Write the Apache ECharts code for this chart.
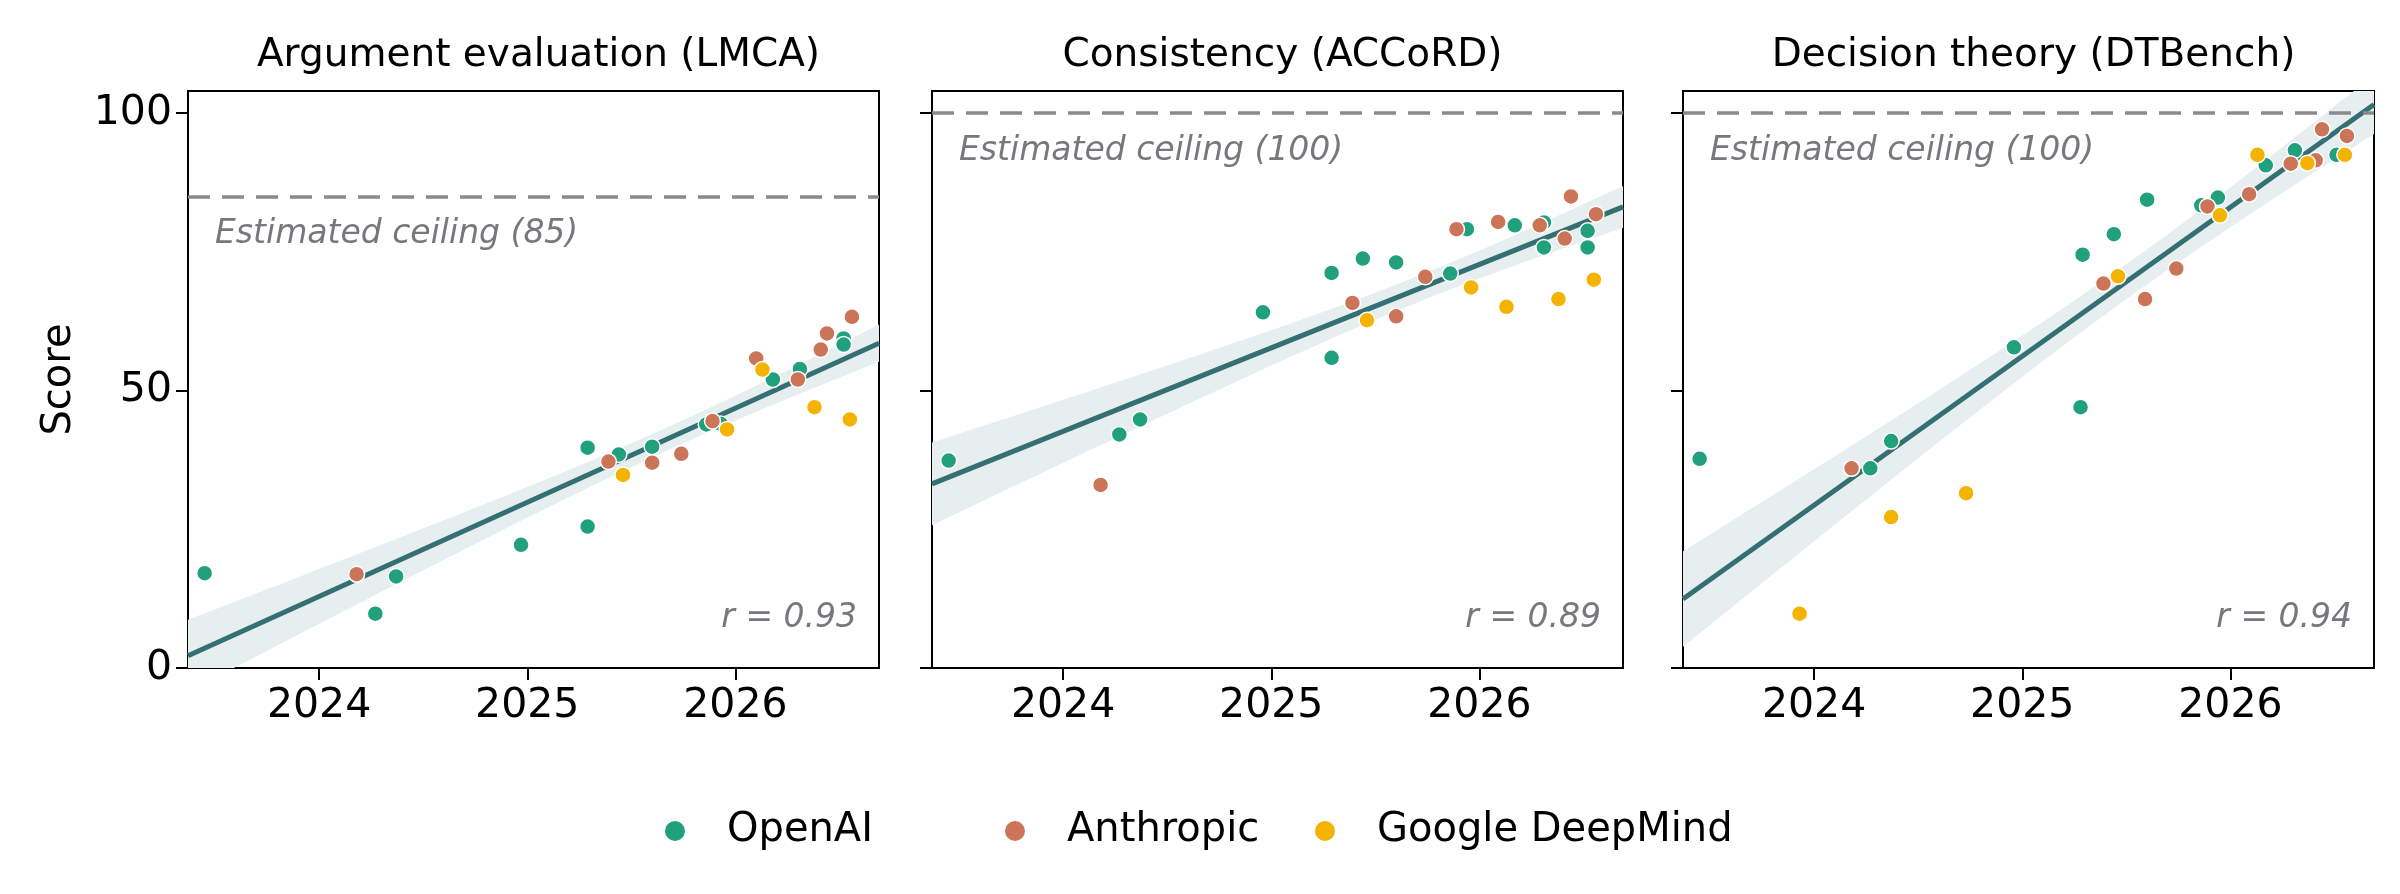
<!DOCTYPE html>
<html><head><meta charset="utf-8">
<script src="https://cdn.jsdelivr.net/npm/echarts@6/dist/echarts.min.js"></script>
<style>html,body{margin:0;padding:0;background:#fff}#c{width:2400px;height:894px}</style>
</head><body><div id="c"></div>
<script>
const panelTitles = ['Argument evaluation (LMCA)', 'Consistency (ACCoRD)', 'Decision theory (DTBench)'];
const ceilings = [85, 100, 100];
const rLabels = ['r = 0.93', 'r = 0.89', 'r = 0.94'];
const companies = ['OpenAI', 'Anthropic', 'Google DeepMind'];
const yearTicks = [2024, 2025, 2026];
const yTicks = [0, 50, 100];

// Panel 1
const p1OpenAIx = [2023.45, 2024.27, 2024.37, 2024.97, 2025.29, 2025.29, 2025.44, 2025.60, 2025.86, 2025.93, 2026.18, 2026.31, 2026.52, 2026.52];
const p1OpenAIy = [17.1, 9.8, 16.5, 22.2, 25.5, 39.7, 38.5, 39.9, 43.9, 44.0, 52.0, 53.9, 59.4, 58.3];
const p1AnthropicX = [2024.18, 2025.39, 2025.60, 2025.74, 2025.89, 2026.10, 2026.30, 2026.41, 2026.44, 2026.56];
const p1AnthropicY = [16.9, 37.2, 37.0, 38.6, 44.5, 55.8, 52.0, 57.4, 60.3, 63.3];
const p1GoogleX = [2025.46, 2025.96, 2026.13, 2026.38, 2026.55];
const p1GoogleY = [34.8, 43.0, 53.8, 47.0, 44.8];
// Panel 2
const p2OpenAIx = [2023.45, 2024.27, 2024.37, 2024.96, 2025.29, 2025.29, 2025.44, 2025.60, 2025.86, 2025.94, 2026.17, 2026.31, 2026.31, 2026.52, 2026.52];
const p2OpenAIy = [37.4, 42.1, 44.8, 64.1, 55.9, 71.2, 73.8, 73.1, 71.1, 79.1, 79.8, 80.3, 75.8, 78.8, 75.8];
const p2AnthropicX = [2024.18, 2025.39, 2025.60, 2025.74, 2025.89, 2026.09, 2026.29, 2026.41, 2026.44, 2026.56];
const p2AnthropicY = [33.0, 65.8, 63.4, 70.5, 79.1, 80.4, 79.8, 77.4, 85.0, 81.8];
const p2GoogleX = [2025.46, 2025.96, 2026.13, 2026.38, 2026.55];
const p2GoogleY = [62.7, 68.6, 65.1, 66.5, 70.0];
// Panel 3
const p3OpenAIx = [2023.45, 2024.27, 2024.37, 2024.96, 2025.28, 2025.29, 2025.44, 2025.60, 2025.86, 2025.94, 2026.17, 2026.31, 2026.51];
const p3OpenAIy = [37.7, 36.0, 40.9, 57.8, 47.0, 74.5, 78.2, 84.4, 83.4, 84.8, 90.6, 93.3, 92.5];
const p3AnthropicX = [2024.18, 2025.39, 2025.59, 2025.74, 2025.89, 2026.09, 2026.29, 2026.41, 2026.44, 2026.56];
const p3AnthropicY = [36.0, 69.3, 66.5, 72.0, 83.2, 85.4, 90.9, 91.5, 97.1, 95.9];
const p3GoogleX = [2023.93, 2024.37, 2024.73, 2025.46, 2025.95, 2026.13, 2026.37, 2026.55];
const p3GoogleY = [9.8, 27.2, 31.5, 70.6, 81.6, 92.5, 91.0, 92.5];

const panels = [
  [[p1OpenAIx, p1OpenAIy], [p1AnthropicX, p1AnthropicY], [p1GoogleX, p1GoogleY]],
  [[p2OpenAIx, p2OpenAIy], [p2AnthropicX, p2AnthropicY], [p2GoogleX, p2GoogleY]],
  [[p3OpenAIx, p3OpenAIy], [p3AnthropicX, p3AnthropicY], [p3GoogleX, p3GoogleY]]
];

const colors = ['#20a07c', '#cc7457', '#f3b300'];
const XMIN = 2023.37, XMAX = 2026.69;
const lefts = [188, 932, 1683], W = 691, TOP = 91, H = 577;
const FONT = '"DejaVu Sans", sans-serif';

function fit(xs, ys) {
  const n = xs.length;
  const mx = xs.reduce((a, b) => a + b, 0) / n, my = ys.reduce((a, b) => a + b, 0) / n;
  let sxx = 0, sxy = 0;
  for (let i = 0; i < n; i++) { sxx += (xs[i] - mx) ** 2; sxy += (xs[i] - mx) * (ys[i] - my); }
  const b = sxy / sxx, a = my - b * mx;
  let sse = 0;
  for (let i = 0; i < n; i++) sse += (ys[i] - a - b * xs[i]) ** 2;
  const s = Math.sqrt(sse / (n - 2));
  return { a, b, s, n, mx, sxx, t: 2.03 };
}

const chart = echarts.init(document.getElementById('c'), null, { renderer: 'canvas' });
const grid = [], xAxis = [], yAxis = [], series = [], graphic = [], title = [];

panels.forEach((pan, p) => {
  grid.push({ left: lefts[p], top: TOP, width: W, height: H, show: true, borderColor: '#000', borderWidth: 2, backgroundColor: 'transparent' });
  title.push({ text: panelTitles[p], left: lefts[p] + W / 2, top: 31, textAlign: 'center', textStyle: { fontFamily: FONT, fontSize: 39, fontWeight: 'normal', color: '#000' } });
  xAxis.push({ type: 'value', gridIndex: p, min: XMIN, max: XMAX,
    axisLine: { show: true, lineStyle: { color: '#000', width: 2 } },
    axisTick: { show: true, length: 12, lineStyle: { color: '#000', width: 2 }, customValues: yearTicks },
    axisLabel: { show: true, customValues: yearTicks, formatter: v => String(Math.round(v)), fontFamily: FONT, fontSize: 41, color: '#000', margin: 18 },
    splitLine: { show: false } });
  yAxis.push({ type: 'value', gridIndex: p, min: 0, max: 104,
    name: p === 0 ? 'Score' : '', nameLocation: 'middle', nameGap: 108, nameRotate: 90,
    nameTextStyle: { fontFamily: FONT, fontSize: 40, color: '#000' },
    axisLine: { show: true, lineStyle: { color: '#000', width: 2 } },
    axisTick: { show: true, length: 12, lineStyle: { color: '#000', width: 2 }, customValues: yTicks },
    axisLabel: { show: p === 0, customValues: yTicks, fontFamily: FONT, fontSize: 41, color: '#000', margin: 16 },
    splitLine: { show: false } });

  const allX = [].concat(...pan.map(c => c[0])), allY = [].concat(...pan.map(c => c[1]));
  const f = fit(allX, allY);
  series.push({ type: 'custom', xAxisIndex: p, yAxisIndex: p, z: 1, silent: true, data: [[XMIN, 0]],
    renderItem: (params, api) => {
      const up = [], lo = [];
      for (let i = 0; i <= 60; i++) {
        const x = XMIN + (XMAX - XMIN) * i / 60;
        const yh = f.a + f.b * x;
        const se = f.s * Math.sqrt(1 / f.n + (x - f.mx) ** 2 / f.sxx);
        up.push(api.coord([x, yh + f.t * se]));
        lo.unshift(api.coord([x, yh - f.t * se]));
      }
      const cs = params.coordSys;
      return { type: 'group', clipPath: { type: 'rect', shape: { x: cs.x, y: cs.y, width: cs.width, height: cs.height } },
        children: [{ type: 'polygon', shape: { points: up.concat(lo) }, style: { fill: '#e7eef0' } }] };
    } });
  series.push({ type: 'line', xAxisIndex: p, yAxisIndex: p, z: 2, silent: true, symbol: 'none',
    data: [[XMIN, f.a + f.b * XMIN], [XMAX, f.a + f.b * XMAX]],
    lineStyle: { color: '#346f74', width: 5 }, clip: true,
    markLine: { silent: true, symbol: 'none', label: { show: false },
      lineStyle: { color: '#8a8a8a', width: 3.5, type: [22, 12] }, data: [{ yAxis: ceilings[p] }] } });
  pan.forEach((c, k) => {
    series.push({ name: companies[k], type: 'scatter', xAxisIndex: p, yAxisIndex: p, z: 3,
      symbolSize: 16, itemStyle: { color: colors[k], borderColor: '#fff', borderWidth: 1.5, opacity: 1 },
      data: c[0].map((x, i) => [x, c[1][i]]) });
  });
  const ceilPx = TOP + H * (1 - ceilings[p] / 104);
  graphic.push({ type: 'text', left: lefts[p] + 27, top: ceilPx + 22, style: { text: 'Estimated ceiling (' + ceilings[p] + ')', fontFamily: FONT, fontStyle: 'italic', fontSize: 33, fill: '#77777e' } });
  graphic.push({ type: 'text', right: 2400 - (lefts[p] + W - 22), top: 602, style: { text: rLabels[p], fontFamily: FONT, fontStyle: 'italic', fontSize: 33, fill: '#77777e', textAlign: 'right' } });
});

const legendBase = { top: 806, icon: 'circle', itemWidth: 22, itemHeight: 22, itemGap: 130,
  textStyle: { fontFamily: FONT, fontSize: 40, color: '#000', padding: [0, 0, 0, 36] } };
chart.setOption({
  animation: false, backgroundColor: '#fff', title, grid, xAxis, yAxis, series, graphic,
  legend: [
    Object.assign({}, legendBase, { data: companies.slice(0, 2), left: 658 }),
    Object.assign({}, legendBase, { data: companies.slice(2), left: 1308 })
  ]
});
</script></body></html>
